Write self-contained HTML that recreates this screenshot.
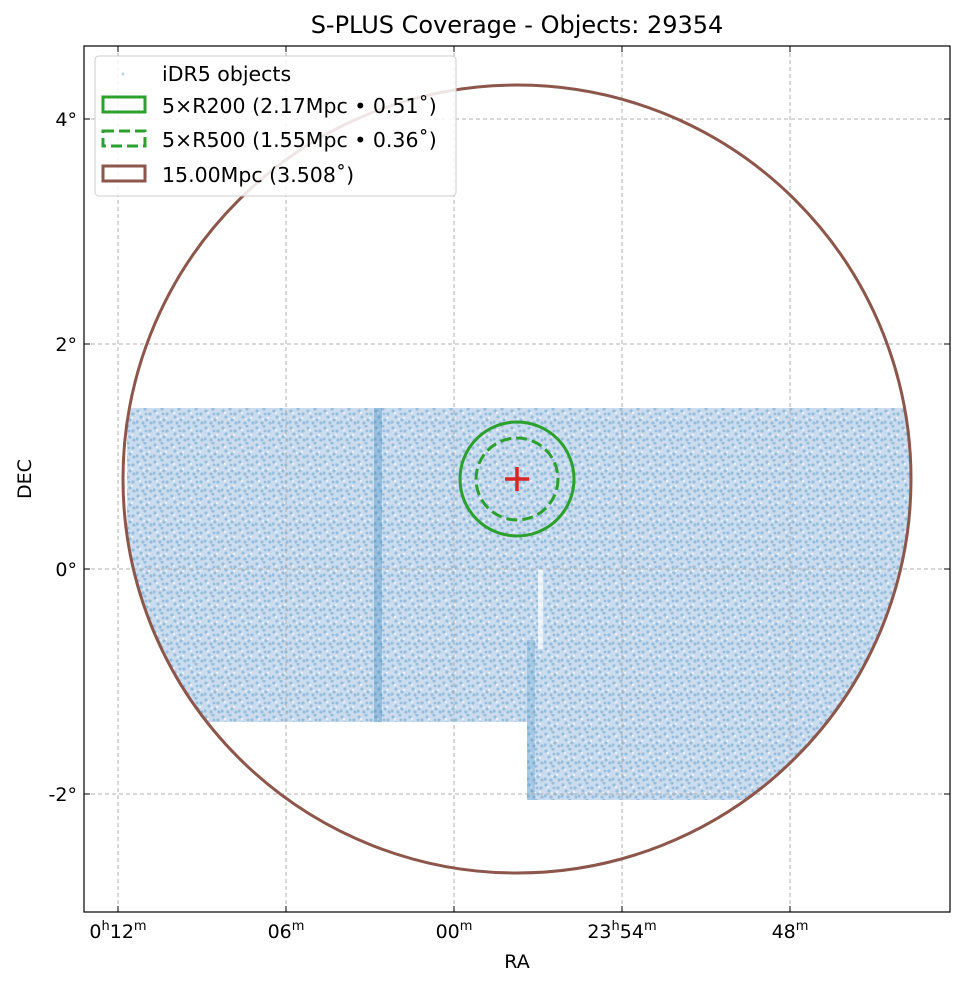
<!DOCTYPE html>
<html><head><meta charset="utf-8"><style>body{margin:0;background:#fff}svg{display:block}</style></head><body>
<svg width="965" height="986" viewBox="0 0 965 986" xmlns="http://www.w3.org/2000/svg" font-family="DejaVu Sans, Liberation Sans, sans-serif">
<defs>
<clipPath id="cc"><circle cx="517" cy="479" r="393"/></clipPath>
<pattern id="dots" width="17" height="17" patternUnits="userSpaceOnUse">
<rect width="17" height="17" fill="#cadcee"/>
<g fill="#1f77b4" fill-opacity="0.3">
<circle cx="2" cy="3" r="1.6"/><circle cx="9" cy="1" r="1.6"/><circle cx="14" cy="6" r="1.6"/>
<circle cx="5" cy="9" r="1.6"/><circle cx="11" cy="12" r="1.6"/><circle cx="1" cy="14" r="1.6"/>
<circle cx="15" cy="15" r="1.6"/><circle cx="7" cy="15" r="1.6"/><circle cx="10" cy="6" r="1.4"/>
</g>
<g fill="#fff" fill-opacity="0.6"><circle cx="4" cy="5" r="1.2"/><circle cx="13" cy="10" r="1.2"/><circle cx="8" cy="11" r="1"/></g>
</pattern>
</defs>
<rect width="965" height="986" fill="#fff"/>
<g clip-path="url(#cc)">
<path d="M127 408 H910 V800 H527 V722 H127 Z" fill="url(#dots)"/>
<rect x="374" y="408" width="8" height="314" fill="#1f77b4" fill-opacity="0.3"/>
<rect x="527" y="640" width="8" height="160" fill="#1f77b4" fill-opacity="0.2"/>
<rect x="538" y="569" width="5" height="80" fill="#fff" fill-opacity="0.7"/>
</g>
<g stroke="#b0b0b0" stroke-width="1" stroke-dasharray="4,3">
<line x1="118" y1="46" x2="118" y2="912"/><line x1="286" y1="46" x2="286" y2="912"/>
<line x1="454" y1="46" x2="454" y2="912"/><line x1="622" y1="46" x2="622" y2="912"/>
<line x1="790" y1="46" x2="790" y2="912"/>
<line x1="84" y1="119" x2="950" y2="119"/><line x1="84" y1="344" x2="950" y2="344"/>
<line x1="84" y1="569" x2="950" y2="569"/><line x1="84" y1="794" x2="950" y2="794"/>
</g>
<circle cx="517" cy="479" r="394" fill="none" stroke="#8c564b" stroke-width="3"/>
<circle cx="517" cy="479" r="57" fill="none" stroke="#2ca02c" stroke-width="3"/>
<circle cx="517" cy="479" r="41" fill="none" stroke="#2ca02c" stroke-width="3" stroke-dasharray="11,5"/>
<g stroke="#d62728" stroke-width="3.5"><line x1="505" y1="479" x2="529" y2="479"/><line x1="517" y1="467" x2="517" y2="491"/></g>
<rect x="84" y="46" width="866" height="866" fill="none" stroke="#000" stroke-width="1.2"/>
<g stroke="#000" stroke-width="1">
<line x1="118" y1="912" x2="118" y2="906"/><line x1="286" y1="912" x2="286" y2="906"/><line x1="454" y1="912" x2="454" y2="906"/><line x1="622" y1="912" x2="622" y2="906"/><line x1="790" y1="912" x2="790" y2="906"/>
<line x1="118" y1="46" x2="118" y2="52"/><line x1="286" y1="46" x2="286" y2="52"/><line x1="454" y1="46" x2="454" y2="52"/><line x1="622" y1="46" x2="622" y2="52"/><line x1="790" y1="46" x2="790" y2="52"/>
<line x1="84" y1="119" x2="90" y2="119"/><line x1="84" y1="344" x2="90" y2="344"/><line x1="84" y1="569" x2="90" y2="569"/><line x1="84" y1="794" x2="90" y2="794"/>
<line x1="950" y1="119" x2="944" y2="119"/><line x1="950" y1="344" x2="944" y2="344"/><line x1="950" y1="569" x2="944" y2="569"/><line x1="950" y1="794" x2="944" y2="794"/>
</g>
<g font-size="19" fill="#000">
<text x="517" y="33" text-anchor="middle" font-size="24">S-PLUS Coverage - Objects: 29354</text>
<text x="517" y="968" text-anchor="middle">RA</text>
<text x="31" y="479" text-anchor="middle" transform="rotate(-90 31 479)">DEC</text>
<text x="77" y="126" text-anchor="end">4°</text>
<text x="77" y="351" text-anchor="end">2°</text>
<text x="77" y="576" text-anchor="end">0°</text>
<text x="77" y="801" text-anchor="end">-2°</text>
<text x="118" y="938" text-anchor="middle">0<tspan font-size="13" dy="-8">h</tspan><tspan dy="8">12</tspan><tspan font-size="13" dy="-8">m</tspan></text>
<text x="286" y="938" text-anchor="middle">06<tspan font-size="13" dy="-8">m</tspan></text>
<text x="454" y="938" text-anchor="middle">00<tspan font-size="13" dy="-8">m</tspan></text>
<text x="622" y="938" text-anchor="middle">23<tspan font-size="13" dy="-8">h</tspan><tspan dy="8">54</tspan><tspan font-size="13" dy="-8">m</tspan></text>
<text x="790" y="938" text-anchor="middle">48<tspan font-size="13" dy="-8">m</tspan></text>
</g>
<rect x="95" y="56" width="361" height="140" rx="4" fill="#fff" fill-opacity="0.85" stroke="#ccc"/>
<circle cx="123" cy="74" r="1.5" fill="#1f77b4" fill-opacity="0.3"/>
<rect x="103" y="97" width="42" height="15" fill="none" stroke="#2ca02c" stroke-width="3"/>
<rect x="103" y="131" width="42" height="15" fill="none" stroke="#2ca02c" stroke-width="3" stroke-dasharray="11,5"/>
<rect x="103" y="166" width="42" height="15" fill="none" stroke="#8c564b" stroke-width="3"/>
<g font-size="20.5" fill="#000">
<text x="162" y="81">iDR5 objects</text>
<text x="162" y="113">5×R200 (2.17Mpc • 0.51˚)</text>
<text x="162" y="147">5×R500 (1.55Mpc • 0.36˚)</text>
<text x="162" y="182">15.00Mpc (3.508˚)</text>
</g>
</svg>
</body></html>
